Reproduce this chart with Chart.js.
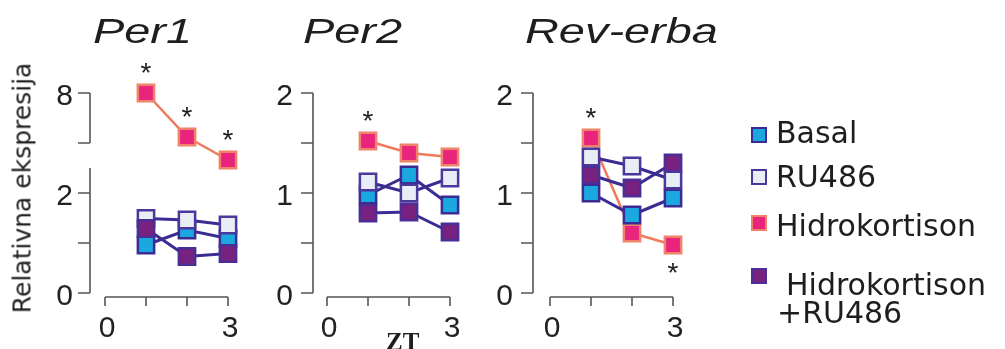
<!DOCTYPE html>
<html>
<head>
<meta charset="utf-8">
<script src="https://cdn.jsdelivr.net/npm/chart.js@4/dist/chart.umd.min.js"></script>
<style>
  html, body { margin: 0; padding: 0; background: #fff; }
  #fig { position: relative; width: 1005px; height: 349px; overflow: hidden; background: #fff; }
  #fig canvas { position: absolute; left: 0; top: 0; }
  .title { position: absolute; top: 13px; font: italic 35px "Liberation Sans", Arial, sans-serif; line-height: 35px;
           color: #1e1e1e; transform: scaleX(1.34); transform-origin: left top; white-space: nowrap; }
  .ytitle { position: absolute; left: 22px; top: 188px; font: 25px "DejaVu Sans", sans-serif; color: #222;
            transform: translate(-50%, -50%) rotate(-90deg); white-space: nowrap; line-height: 25px; }
  .xtitle { position: absolute; left: 386px; top: 329px; font: bold 25px "Liberation Serif", serif; color: #1e1e1e;
            line-height: 25px; }
  .leg { position: absolute; left: 0; top: 0; }
  .leg .sw { position: absolute; width: 12px; height: 12px; border: 2.5px solid; }
  .leg .tx { position: absolute; font: 30px "DejaVu Sans", sans-serif; color: #1e1e1e; line-height: 30px; white-space: nowrap; }
</style>
</head>
<body>
<div id="fig">
  <canvas id="cPer1" width="1005" height="349"></canvas>
  <canvas id="cPer2" width="1005" height="349"></canvas>
  <canvas id="cRev" width="1005" height="349"></canvas>
  <div class="title" style="left:93px">Per1</div>
  <div class="title" style="left:303px">Per2</div>
  <div class="title" style="left:525px">Rev-erba</div>
  <div class="ytitle">Relativna ekspresija</div>
  <div class="xtitle">ZT</div>
  <div class="leg" id="legend"></div>
</div>
<script>
// ---- data -------------------------------------------------------------
const seriesNames = ['Basal', 'RU486', 'Hidrokortison', 'Hidrokortison', '+RU486'];
const zt = [1, 2, 3];
const ztTicks = [0, 1, 2, 3];
const ztTickLabels = ['0', '', '', '3'];

// Per1 (Hidrokortison is read on the upper, compressed segment of the axis)
const per1Basal = [0.96, 1.26, 1.09];
const per1RU486 = [1.49, 1.46, 1.36];
const per1Hydro = [8.0, 6.24, 5.32];
const per1HydroRU = [1.29, 0.73, 0.79];
const per1HydroStars = ['above', 'above', 'above'];
const per1LowerTicks = [0, 1, 2];
const per1LowerLabels = ['0', '', '2'];
const per1UpperTicks = [6, 8];
const per1UpperLabels = ['', '8'];

// Per2
const per2Basal = [0.98, 1.18, 0.88];
const per2RU486 = [1.11, 1.00, 1.15];
const per2Hydro = [1.52, 1.40, 1.36];
const per2HydroRU = [0.80, 0.81, 0.61];
const per2HydroStars = ['above', null, null];

// Rev-erba
const revBasal = [1.00, 0.78, 0.95];
const revRU486 = [1.36, 1.27, 1.13];
const revHydro = [1.55, 0.60, 0.48];
const revHydroRU = [1.18, 1.05, 1.30];
const revHydroStars = ['above', null, 'below'];

const y2Ticks = [0, 0.5, 1, 1.5, 2];
const y2TickLabels = ['0', '', '1', '', '2'];

// ---- styles -----------------------------------------------------------
const STYLE = {
  basal:   { fill: '#1ba8e0', edge: '#3b2c93', line: '#3b2c93' },
  ru486:   { fill: '#e9eef6', edge: '#4a389c', line: '#3b2c93' },
  hydro:   { fill: '#e8247d', edge: '#f0826a', line: '#f07a5c' },
  hydroRU: { fill: '#78227f', edge: '#4a2e95', line: '#3b2c93' }
};
const AXIS_COLOR = '#555';
const LABEL_COLOR = '#222';
const TICK_FONT = '30px "Liberation Sans", Arial, sans-serif';

// R-style detached axes: y segments drawn left of the plot, x axis below it,
// with tick marks and tick labels taken from the chart's scales
const detachedAxes = {
  id: 'detachedAxes',
  beforeDatasetsDraw(chart, args, opts) {
    const ctx = chart.ctx;
    const area = chart.chartArea;
    const xs = chart.scales.x;
    ctx.save();
    ctx.strokeStyle = AXIS_COLOR;
    ctx.lineWidth = 1.6;
    ctx.beginPath();
    const yLine = area.bottom + opts.xGap;
    const xv = xs.ticks.map(t => t.value);
    ctx.moveTo(xs.getPixelForValue(xv[0]), yLine);
    ctx.lineTo(xs.getPixelForValue(xv[xv.length - 1]), yLine);
    xv.forEach(v => {
      const px = xs.getPixelForValue(v);
      ctx.moveTo(px, yLine);
      ctx.lineTo(px, yLine + opts.tickLen);
    });
    const xLine = area.left - opts.yGap;
    opts.segments.forEach(seg => {
      const ys = chart.scales[seg.axis];
      ctx.moveTo(xLine, ys.getPixelForValue(seg.from));
      ctx.lineTo(xLine, ys.getPixelForValue(seg.to));
      ys.ticks.forEach(t => {
        const py = ys.getPixelForValue(t.value);
        ctx.moveTo(xLine, py);
        ctx.lineTo(xLine - opts.yTickLen, py);
      });
    });
    ctx.stroke();

    ctx.fillStyle = LABEL_COLOR;
    ctx.font = TICK_FONT;
    // x tick labels
    ctx.textAlign = 'center';
    ctx.textBaseline = 'top';
    xs.ticks.forEach((t, i) => {
      const lab = opts.xLabels[i];
      if (lab) ctx.fillText(lab, xs.getPixelForValue(t.value) + opts.xLabelShift, area.bottom + opts.xLabelPad);
    });
    // y tick labels
    ctx.textAlign = 'right';
    ctx.textBaseline = 'middle';
    opts.segments.forEach(seg => {
      const ys = chart.scales[seg.axis];
      ys.ticks.forEach((t, i) => {
        const lab = seg.labels[i];
        if (lab) ctx.fillText(lab, area.left - opts.yLabelPad, ys.getPixelForValue(t.value) + 4);
      });
    });
    ctx.restore();
  }
};

// significance asterisks attached to a dataset's points
const starMarks = {
  id: 'starMarks',
  afterDatasetsDraw(chart) {
    const ctx = chart.ctx;
    ctx.save();
    ctx.fillStyle = '#1e1e1e';
    ctx.font = '28px "Liberation Sans", Arial, sans-serif';
    ctx.textAlign = 'center';
    ctx.textBaseline = 'alphabetic';
    chart.data.datasets.forEach((ds, i) => {
      if (!ds.stars) return;
      const meta = chart.getDatasetMeta(i);
      ds.stars.forEach((pos, j) => {
        if (!pos) return;
        const el = meta.data[j];
        const cy = pos === 'above' ? el.y - 27 : el.y + 21;
        ctx.fillText('*', el.x, cy + 16);
      });
    });
    ctx.restore();
  }
};

function series(values, st, order, axis, stars) {
  return {
    data: zt.map((x, i) => ({ x, y: values[i] })),
    borderColor: st.line,
    borderWidth: st === STYLE.hydro ? 2.5 : 3,
    pointStyle: 'rect',
    pointRadius: 11.5,
    pointBackgroundColor: st.fill,
    pointBorderColor: st.edge,
    pointBorderWidth: 2.5,
    tension: 0,
    clip: false,
    order,
    yAxisID: axis,
    stars
  };
}

function valueAxis(ticks, min, max) {
  return {
    type: 'linear', position: 'left', min, max,
    grid: { display: false, drawTicks: false }, border: { display: false },
    afterBuildTicks: s => { s.ticks = ticks.map(v => ({ value: v })); },
    afterFit: s => { s.width = 0; },
    ticks: { display: false, autoSkip: false }
  };
}

function panel(id, geom, datasets, yScales, segments) {
  return new Chart(document.getElementById(id), {
    type: 'line',
    data: { datasets },
    options: {
      responsive: false, animation: false, events: [],
      layout: { padding: { left: geom.left, right: 1005 - geom.right, top: geom.top, bottom: 349 - geom.bottom } },
      scales: Object.assign({
        x: {
          type: 'linear', position: 'bottom', min: 0, max: 3, offset: false,
          grid: { display: false, drawTicks: false }, border: { display: false },
          afterBuildTicks: s => { s.ticks = ztTicks.map(v => ({ value: v })); },
          afterFit: s => { s.height = 0; },
          ticks: { display: false, autoSkip: false }
        }
      }, yScales),
      plugins: {
        legend: { display: false }, tooltip: { enabled: false },
        detachedAxes: {
          segments, xGap: 4, tickLen: 9, yGap: geom.yGap, yTickLen: 12,
          xLabels: ztTickLabels, xLabelPad: 21, xLabelShift: 2, yLabelPad: geom.yLabelPad
        }
      }
    },
    plugins: [detachedAxes, starMarks]
  });
}

panel('cPer1', { left: 105, right: 228, top: 93, bottom: 293, yGap: 15, yLabelPad: 32 }, [
  series(per1HydroRU, STYLE.hydroRU, 0, 'yLow'),
  series(per1RU486, STYLE.ru486, 1, 'yLow'),
  series(per1Basal, STYLE.basal, 2, 'yLow'),
  series(per1Hydro, STYLE.hydro, 3, 'yHigh', per1HydroStars)
], {
  yLow: valueAxis(per1LowerTicks, 0, 4),
  yHigh: valueAxis(per1UpperTicks, 0, 8)
}, [
  { axis: 'yLow', from: 0, to: 2.5, labels: per1LowerLabels },
  { axis: 'yHigh', from: 6, to: 8, labels: per1UpperLabels }
]);

panel('cPer2', { left: 327, right: 450, top: 93, bottom: 293, yGap: 14, yLabelPad: 34 }, [
  series(per2HydroRU, STYLE.hydroRU, 0, 'y'),
  series(per2RU486, STYLE.ru486, 1, 'y'),
  series(per2Basal, STYLE.basal, 2, 'y'),
  series(per2Hydro, STYLE.hydro, 3, 'y', per2HydroStars)
], { y: valueAxis(y2Ticks, 0, 2) }, [{ axis: 'y', from: 0, to: 2, labels: y2TickLabels }]);

panel('cRev', { left: 550, right: 673, top: 93, bottom: 293, yGap: 17, yLabelPad: 37 }, [
  series(revHydroRU, STYLE.hydroRU, 1, 'y'),
  series(revRU486, STYLE.ru486, 0, 'y'),
  series(revBasal, STYLE.basal, 2, 'y'),
  series(revHydro, STYLE.hydro, 3, 'y', revHydroStars)
], { y: valueAxis(y2Ticks, 0, 2) }, [{ axis: 'y', from: 0, to: 2, labels: y2TickLabels }]);

// legend: swatches + labels (baseline positions in px)
const legendItems = [
  { st: STYLE.basal,   sw: 127, text: [[seriesNames[0], 776, 143]] },
  { st: STYLE.ru486,   sw: 169, text: [[seriesNames[1], 776, 187]] },
  { st: STYLE.hydro,   sw: 215, text: [[seriesNames[2], 776, 236]] },
  { st: STYLE.hydroRU, sw: 268, text: [[seriesNames[3], 786, 295], [seriesNames[4], 777, 323]] }
];
const leg = document.getElementById('legend');
legendItems.forEach(item => {
  const sw = document.createElement('div');
  sw.className = 'sw';
  sw.style.left = '751px';
  sw.style.top = item.sw + 'px';
  sw.style.background = item.st.fill;
  sw.style.borderColor = item.st.edge;
  leg.appendChild(sw);
  item.text.forEach(([t, x, base]) => {
    const s = document.createElement('div');
    s.className = 'tx';
    s.textContent = t;
    s.style.left = x + 'px';
    s.style.top = (base - 25.4) + 'px';
    leg.appendChild(s);
  });
});
</script>
</body>
</html>
